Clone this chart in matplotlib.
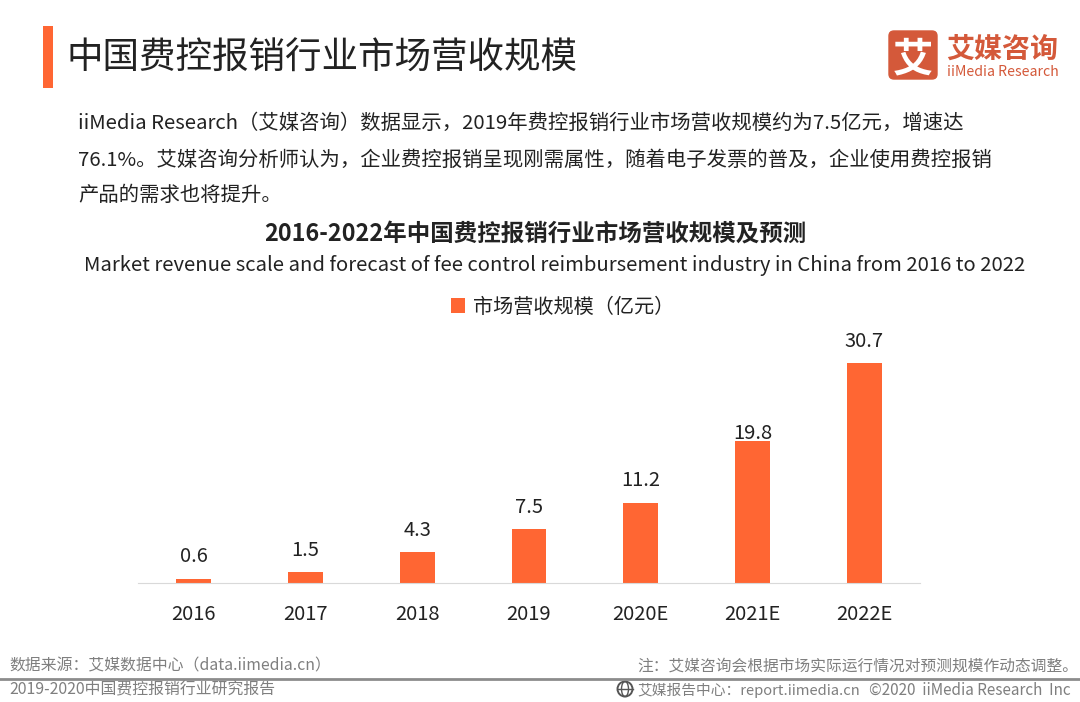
import matplotlib
matplotlib.use('Agg')
import matplotlib.pyplot as plt
from matplotlib.patches import Rectangle, FancyBboxPatch, Circle, Ellipse

plt.rcParams['font.family'] = ['Noto Sans CJK SC', 'DejaVu Sans']

years = ['2016', '2017', '2018', '2019', '2020E', '2021E', '2022E']
revenue = [0.6, 1.5, 4.3, 7.5, 11.2, 19.8, 30.7]
value_labels = ['0.6', '1.5', '4.3', '7.5', '11.2', '19.8', '30.7']

orange = '#FF6633'
logo_red = '#D4593A'
dark = '#222222'
grey = '#7F7F7F'

W, H = 1080, 702
fig = plt.figure(figsize=(W / 100, H / 100), dpi=100, facecolor='white')

# full figure layer in pixel coords, for all the page text
bg = fig.add_axes([0, 0, 1, 1])
bg.set_xlim(0, W)
bg.set_ylim(H, 0)
bg.axis('off')

bg.add_patch(Rectangle((43, 26), 10, 62, color=orange, lw=0))
bg.text(66.5, 59, '中国费控报销行业市场营收规模', fontsize=26.3, color=dark, va='center', ha='left')

# logo
bg.add_patch(FancyBboxPatch((889, 31), 48, 48, boxstyle='round,pad=0,rounding_size=5',
                            fc=logo_red, ec=logo_red, lw=1))
bg.text(913, 60, '艾', fontsize=29, color='white', weight='bold', va='center', ha='center')
bg.text(946, 50, '艾媒咨询', fontsize=20.2, color=logo_red, weight='bold', va='center', ha='left')
bg.text(947, 72, 'iiMedia Research', fontsize=10.2, color=logo_red, va='center', ha='left')

body = ['iiMedia Research（艾媒咨询）数据显示，2019年费控报销行业市场营收规模约为7.5亿元，增速达',
        '76.1%。艾媒咨询分析师认为，企业费控报销呈现刚需属性，随着电子发票的普及，企业使用费控报销',
        '产品的需求也将提升。']
for y, line in zip([123, 160, 195.5], body):
    bg.text(78, y, line, fontsize=14.65, color=dark, va='center', ha='left')

bg.text(535, 234, '2016-2022年中国费控报销行业市场营收规模及预测', fontsize=16.9, weight='bold',
        color=dark, va='center', ha='center')
bg.text(555, 266, 'Market revenue scale and forecast of fee control reimbursement industry in China from 2016 to 2022',
        fontsize=14.6, color=dark, va='center', ha='center')

# footer
bg.plot([0, W], [678.5, 678.5], color='#8C8C8C', lw=2)
bg.text(9, 666, '数据来源：艾媒数据中心（data.iimedia.cn）', fontsize=11.4, color=grey, va='center', ha='left')
bg.text(1078, 666, '注：艾媒咨询会根据市场实际运行情况对预测规模作动态调整。', fontsize=11.3, color=grey, va='center', ha='right')
bg.text(9, 690, '2019-2020中国费控报销行业研究报告', fontsize=11.4, color=grey, va='center', ha='left')
bg.text(637, 690, '艾媒报告中心：report.iimedia.cn', fontsize=10.6, color=grey, va='center', ha='left')
bg.text(1071, 690, '©2020  iiMedia Research  Inc', fontsize=11, color=grey, va='center', ha='right')

# little globe icon in the footer
bg.add_patch(Circle((625, 689), 7.5, fc='none', ec='#555555', lw=1.4))
bg.add_patch(Ellipse((625, 689), 7, 15, fc='none', ec='#555555', lw=1))
bg.plot([617.5, 632.5], [689, 689], color='#555555', lw=1)

# bar chart, axes spans 138..920 px wide, baseline at 583 px
ax = fig.add_axes([138 / W, 1 - 583 / H, 782 / W, 250.8 / H])
ax.patch.set_alpha(0)
bars = ax.bar(years, revenue, width=0.313, color=orange, label='市场营收规模（亿元）')
labels = ax.bar_label(bars, labels=value_labels, padding=8.2, fontsize=14.5, color=dark)
# the 2021E label sits right on top of its bar in the original
labels[5].xyann = (0, -1.9)
ax.set_xlim(-0.5, 6.5)
ax.set_ylim(0, 35)
ax.set_yticks([])
for side in ['top', 'left', 'right']:
    ax.spines[side].set_visible(False)
ax.spines['bottom'].set_color('#D9D9D9')
ax.tick_params(axis='x', length=0, pad=15, labelsize=14.5, labelcolor=dark)

ax.legend(loc='center', bbox_to_anchor=((563 - 138) / 782, (583 - 307) / 250.8), frameon=False,
          fontsize=14.5, handlelength=0.7, handleheight=0.7, handletextpad=0.4, labelcolor=dark)

fig.savefig('out.png', dpi=100)
